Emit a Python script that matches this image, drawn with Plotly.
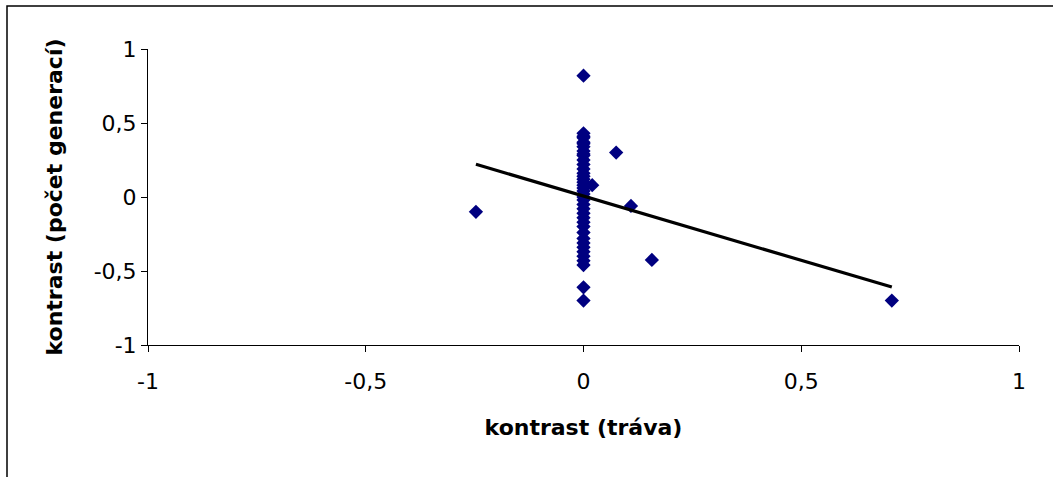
import numpy as np
import plotly.graph_objects as go

# contrast values: grass (x) vs. number of generations (y)
x_off = [-0.247, 0.075, 0.02, 0.109, 0.157, 0.708]
y_off = [-0.10, 0.30, 0.08, -0.06, -0.425, -0.70]

# points lying on x = 0
y_col = [0.82, 0.43, 0.41, 0.40, 0.37, 0.36, 0.34, 0.31, 0.29, 0.28, 0.25,
         0.22, 0.19, 0.16, 0.14, 0.12, 0.10, 0.08, 0.06, 0.04, 0.02, 0.0,
         -0.02, -0.05, -0.08, -0.11, -0.14, -0.17, -0.20, -0.24, -0.28,
         -0.31, -0.34, -0.37, -0.40, -0.43, -0.46, -0.61, -0.70]

tick_vals = [-1, -0.5, 0, 0.5, 1]
tick_text = ["-1", "-0,5", "0", "0,5", "1"]

x_all = np.array(x_off + [0.0] * len(y_col))
y_all = np.array(y_off + y_col)

# least-squares trend line over the data range
slope, intercept = np.polyfit(x_all, y_all, 1)
x_fit = np.array([x_all.min(), x_all.max()])
y_fit = intercept + slope * x_fit

W, H = 1053, 477
L, R, T, B = 148, 34, 49, 132
pw, ph = W - L - R, H - T - B

FONT = "DejaVu Sans, Liberation Sans, Arial, sans-serif"

fig = go.Figure()
fig.add_trace(go.Scatter(
    x=x_all, y=y_all, mode="markers",
    marker=dict(symbol="diamond", size=11, color="#000080", line=dict(width=0)),
    showlegend=False, cliponaxis=False,
))
fig.add_trace(go.Scatter(
    x=x_fit, y=y_fit, mode="lines",
    line=dict(color="black", width=3.2), showlegend=False,
))

axis_common = dict(
    range=[-1, 1], tickvals=tick_vals, ticktext=tick_text,
    showgrid=False, zeroline=False,
    showline=True, linecolor="black", linewidth=1,
    ticks="outside", ticklen=6, tickcolor="black", tickwidth=1,
    tickfont=dict(family=FONT, size=22, color="black"),
)

fig.update_xaxes(**axis_common, ticklabelstandoff=11,
                 title=dict(text="<b>kontrast (tráva)</b>", standoff=26,
                            font=dict(family=FONT, size=22, color="black")))
fig.update_yaxes(**axis_common,
                 title=dict(text="<b>kontrast (počet generací)</b>", standoff=24,
                            font=dict(family=FONT, size=22, color="black")))

# outer chart border
fig.add_shape(type="rect", xref="paper", yref="paper",
              x0=(7 - L) / pw, x1=(W + 5 - L) / pw,
              y0=-(H + 5 - T - ph) / ph, y1=1 + (T - 6) / ph,
              line=dict(color="black", width=1.5), fillcolor="rgba(0,0,0,0)")

fig.update_layout(
    width=W, height=H,
    margin=dict(l=L, r=R, t=T, b=B),
    plot_bgcolor="white", paper_bgcolor="white",
    separators=", ",
    font=dict(family=FONT, color="black"),
)

fig.write_html("out.html")
